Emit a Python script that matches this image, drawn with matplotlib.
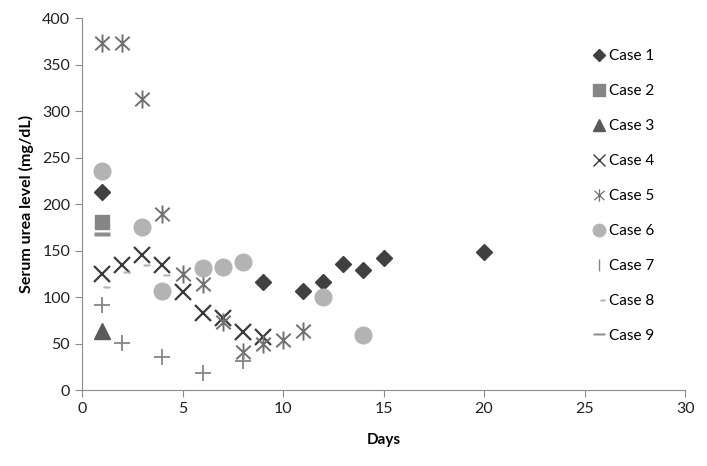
import matplotlib.pyplot as plt
from matplotlib.path import Path
from matplotlib.lines import Line2D

plt.rcParams['font.family'] = ['Lato', 'DejaVu Sans']

# data
case1_days = [1, 9, 11, 12, 13, 14, 15, 20]
case1_urea = [213, 116, 106, 116, 136, 129, 142, 149]
case2_days = [1]
case2_urea = [181]
case3_days = [1]
case3_urea = [63]
case4_days = [1, 2, 3, 4, 5, 6, 7, 8, 9]
case4_urea = [125, 134, 145, 135, 105, 83, 77, 62, 57]
case5_days = [1, 2, 3, 4, 5, 6, 7, 8, 9, 10, 11]
case5_urea = [373, 373, 313, 189, 125, 114, 73, 41, 49, 54, 64]
case6_days = [1, 3, 4, 6, 7, 8, 12, 14]
case6_urea = [236, 175, 106, 131, 132, 138, 100, 59]
case7_days = [1, 2, 4, 6, 8]
case7_urea = [91, 51, 36, 18, 31]
case8_days = [1, 2, 3, 4]
case8_urea = [111, 127, 134, 124]
case9_days = [1]
case9_urea = [168]

# custom markers (Excel-like star and offset short dash)
star = Path([(0, -1), (0, 1), (-0.8, -0.75), (0.8, 0.75), (-0.8, 0.75), (0.8, -0.75)],
            [Path.MOVETO, Path.LINETO, Path.MOVETO, Path.LINETO, Path.MOVETO, Path.LINETO])
short_dash = Path([(0.1, -0.18), (1, -0.18), (1, 0.18), (0.1, 0.18), (0.1, -0.18)],
                  [Path.MOVETO, Path.LINETO, Path.LINETO, Path.LINETO, Path.CLOSEPOLY])
long_dash = Path([(-1, -0.22), (1, -0.22), (1, 0.22), (-1, 0.22), (-1, -0.22)],
                 [Path.MOVETO, Path.LINETO, Path.LINETO, Path.LINETO, Path.CLOSEPOLY])

fig = plt.figure(figsize=(7.07, 4.66), dpi=100)
ax = fig.add_axes([0.116, 0.163, 0.853, 0.798])

ax.plot(case1_days, case1_urea, ls='none', marker='D', ms=8, color='#404040', mec='#404040')
ax.plot(case2_days, case2_urea, ls='none', marker='s', ms=10, color='#858585')
ax.plot(case3_days, case3_urea, ls='none', marker='^', ms=11, color='#5a5a5a')
ax.plot(case4_days, case4_urea, ls='none', marker='x', ms=11, mew=1.6, color='#3a3a3a')
ax.plot(case5_days, case5_urea, ls='none', marker=star, ms=13, mew=1.4, mfc='none', color='#707070')
ax.plot(case6_days, case6_urea, ls='none', marker='o', ms=12, color='#b3b3b3')
ax.plot(case7_days, case7_urea, ls='none', marker='+', ms=11, mew=1.3, color='#858585')
ax.plot(case8_days, case8_urea, ls='none', marker=short_dash, ms=11, color='#b3b3b3', mec='none')
ax.plot(case9_days, case9_urea, ls='none', marker=long_dash, ms=11, color='#8c8c8c', mec='none')

ax.set_xlim(0, 30)
ax.set_ylim(0, 400)
ax.set_xticks(range(0, 31, 5))
ax.set_yticks(range(0, 401, 50))
for s in ['top', 'right']:
    ax.spines[s].set_visible(False)
for s in ['left', 'bottom']:
    ax.spines[s].set_color('#8c8c8c')
ax.tick_params(colors='#8c8c8c', labelcolor='#222222', labelsize=11.5, length=5)
ax.set_xlabel('Days', fontsize=11, fontweight='bold', labelpad=12)
ax.set_ylabel('Serum urea level (mg/dL)', fontsize=11.5, fontweight='bold', labelpad=6)

handles = [
    Line2D([], [], ls='none', marker='D', ms=6, color='#404040'),
    Line2D([], [], ls='none', marker='s', ms=8, color='#858585'),
    Line2D([], [], ls='none', marker='^', ms=8, color='#5a5a5a'),
    Line2D([], [], ls='none', marker='x', ms=8, mew=1.0, color='#3a3a3a'),
    Line2D([], [], ls='none', marker=star, ms=9, mew=0.9, mfc='none', color='#707070'),
    Line2D([], [], ls='none', marker='o', ms=9, color='#b3b3b3'),
    Line2D([], [], ls='none', marker='|', ms=9, mew=1.0, color='#858585'),
    Line2D([], [], ls='none', marker=short_dash, ms=8, color='#b3b3b3', mec='none'),
    Line2D([], [], ls='none', marker=long_dash, ms=9, color='#8c8c8c', mec='none'),
]
labels = ['Case %d' % i for i in range(1, 10)]
ax.legend(handles, labels, loc='upper left', bbox_to_anchor=(0.82, 0.953), frameon=False,
          fontsize=11, labelspacing=1.37, handletextpad=0.15, handlelength=1.1)

fig.savefig('out.png', dpi=100)
